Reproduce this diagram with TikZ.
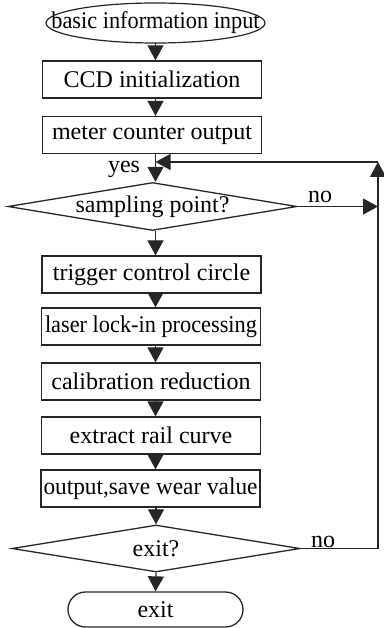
\documentclass[tikz,border=0pt]{standalone}
\usepackage{fontspec}
\setmainfont{Liberation Serif}
\usetikzlibrary{shapes.geometric,arrows.meta}

\tikzset{
  lbl/.style={font=\fontsize{24}{27}\selectfont, inner sep=0pt},
  procbox/.style={lbl, draw=black!85, line width=1.3pt, rectangle,
    minimum width=219pt, minimum height=37pt},
  decision/.style={lbl, draw=black!85, line width=1.3pt, diamond, aspect=6,
    minimum width=289pt, minimum height=48pt},
  terminal/.style={lbl, draw=black!85, line width=1.3pt, rectangle,
    rounded corners=17.5pt, minimum width=175pt, minimum height=35pt},
  flow/.style={draw=black!85, line width=1.2pt,
    -{Triangle[width=16pt,length=15pt]}},
  plain/.style={draw=black!85, line width=1.2pt}
}

\begin{document}
\begin{tikzpicture}[x=1pt,y=-1pt]
  \useasboundingbox (0,0) rectangle (383,628);

  % start ellipse (outline drawn separately so the text can sit tight inside)
  \node[lbl, minimum width=219pt, minimum height=40pt] (start) at (155.5,23) {\scalebox{0.93}[1]{basic information input}};
  \draw[plain] (start.center) ellipse [x radius=109.5pt, y radius=20pt];

  \node[procbox] (ccd)     at (152,79.5)  {CCD initialization};
  \node[procbox] (meter)   at (152,135)   {meter counter output};
  \node[decision] (samp)   at (152.5,206.5) {sampling point?};
  \node[procbox] (trig)    at (151.5,274.5) {trigger control circle};
  \node[procbox] (laser)   at (151,326.5) {\scalebox{0.93}[1]{laser lock-in processing}};
  \node[procbox] (calib)   at (151,381.5) {calibration reduction};
  \node[procbox] (extract) at (151,435.5) {extract rail curve};
  \node[procbox] (outp)    at (150.5,488.5) {\scalebox{0.97}[1]{output,save wear value}};
  \node[decision, minimum height=47pt, minimum width=288pt] (exitq) at (156,548.5) {exit?};
  \node[terminal] (done)   at (155.5,609.5) {exit};

  % feedback corner on the right
  \coordinate (corner) at (378,162);

  % main chain
  \draw[flow] (start.south) -- (ccd.north -| start.south);
  \draw[flow] (ccd.south -| start.south) -- (meter.north -| start.south);
  \draw[flow] (meter.south -| start.south) -- (samp.north -| start.south);
  \draw[flow] (samp.south -| start.south) -- (trig.north -| start.south);
  \draw[flow] (trig.south -| start.south) -- (laser.north -| start.south);
  \draw[flow] (laser.south -| start.south) -- (calib.north -| start.south);
  \draw[flow] (calib.south -| start.south) -- (extract.north -| start.south);
  \draw[flow] (extract.south -| start.south) -- (outp.north -| start.south);
  \draw[flow] (outp.south -| exitq.north) -- (exitq.north);
  \draw[flow] (exitq.south) -- (done.north);

  % "no" branches and loop back
  \draw[flow] (samp.east) -- (samp.east -| corner);
  \draw[flow] (exitq.east) -- (exitq.east -| corner) -- (corner);
  \draw[flow] (corner) -- (corner -| start.south);

  % branch labels
  \node[lbl, anchor=base] (yes) at (124,173) {yes};
  \node[lbl, anchor=base] (no1) at (320,203) {no};
  \node[lbl, anchor=base] (no2) at (323,547) {no};
\end{tikzpicture}
\end{document}
